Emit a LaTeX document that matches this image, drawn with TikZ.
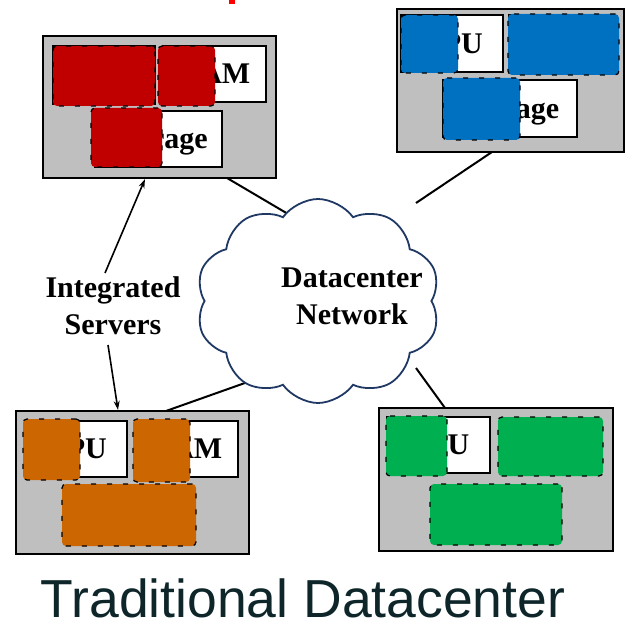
\documentclass[tikz,border=0pt]{standalone}
\usepackage{fontspec}
\setmainfont{Liberation Serif}
\newfontfamily\titlefont{Liberation Sans}
\usetikzlibrary{shapes.symbols,arrows.meta}
\definecolor{redblob}{HTML}{C00000}
\definecolor{blueblob}{HTML}{0070C0}
\definecolor{orangeblob}{HTML}{CC6600}
\definecolor{greenblob}{HTML}{00B050}
\definecolor{servergray}{HTML}{BFBFBF}
\definecolor{cloudline}{HTML}{203864}
\definecolor{titlecol}{HTML}{0E2629}
\tikzset{
  server/.style={draw=black, line width=2.2pt, fill=servergray, inner sep=0pt},
  part/.style={draw=black, line width=2pt, fill=white, inner sep=0pt,
    font=\bfseries\fontsize{30}{30}\selectfont, text height=19.5pt, text depth=0pt},
  blob/.style={fill=#1, rounded corners=4pt, inner sep=0pt, draw=black, line width=1.2pt,
    dash pattern=on 5pt off 11pt},
  link/.style={draw=black, line width=2pt},
  pointer/.style={draw=black, line width=1.6pt, -{Stealth[length=9pt,width=6pt]}},
  lbl/.style={font=\bfseries\fontsize{30}{37}\selectfont, align=center, inner sep=0pt}
}
\begin{document}
\begin{tikzpicture}[x=1pt,y=-1pt]
\useasboundingbox (0,0) rectangle (625,623);
% small red mark at top
\fill[red] (229,0) rectangle (235,4);
% connector end points
\coordinate (tlA) at (227,178);
\coordinate (tlB) at (305,224);
\coordinate (trA) at (492,152);
\coordinate (trB) at (416,203);
\coordinate (blA) at (166,411);
\coordinate (blB) at (259,378);
\coordinate (brA) at (445,408);
\coordinate (brB) at (416,368);
\draw[link] (tlA) -- (tlB);
\draw[link] (trA) -- (trB);
\draw[link] (blA) -- (blB);
\draw[link] (brA) -- (brB);
% ---------- top-left server (red) ----------
\node[server, minimum width=233pt, minimum height=142pt] (tl) at (159.5,107) {};
\node[part, minimum width=102pt, minimum height=58pt] (tlcpu) at (104,75) {CPU};
\node[part, minimum width=103pt, minimum height=56pt] (tlram) at (214.5,74) {RAM};
\node[part, minimum width=127pt, minimum height=56pt] (tlsto) at (158.5,139) {Storage};
\node[blob=redblob, minimum width=102pt, minimum height=60pt] (tlb1) at (104,76) {};
\node[blob=redblob, minimum width=57pt, minimum height=60pt] (tlb2) at (186.5,76) {};
\node[blob=redblob, minimum width=71pt, minimum height=59pt] (tlb3) at (126.5,137.5) {};
% ---------- top-right server (blue) ----------
\node[server, minimum width=227pt, minimum height=143pt] (tr) at (510.5,80.5) {};
\node[part, minimum width=102pt, minimum height=57pt] (trcpu) at (452,43.5) {CPU};
\node[part, minimum width=103pt, minimum height=57pt] (trram) at (560,43.5) {RAM};
\node[part, minimum width=134pt, minimum height=57pt] (trsto) at (510,108.5) {Storage};
\node[blob=blueblob, minimum width=57pt, minimum height=58pt] (trb1) at (429.5,44) {};
\node[blob=blueblob, minimum width=111pt, minimum height=61pt] (trb2) at (563.5,44.5) {};
\node[blob=blueblob, minimum width=77pt, minimum height=62pt] (trb3) at (481.5,109) {};
% ---------- bottom-left server (orange) ----------
\node[server, minimum width=233pt, minimum height=143pt] (bl) at (132.5,482.5) {};
\node[part, minimum width=102pt, minimum height=56pt] (blcpu) at (76,449) {CPU};
\node[part, minimum width=103pt, minimum height=56pt] (blram) at (186.5,449) {RAM};
\node[part, minimum width=130pt, minimum height=58pt] (blsto) at (129,515) {Storage};
\node[blob=orangeblob, minimum width=57pt, minimum height=61pt] (blb1) at (51.5,449.5) {};
\node[blob=orangeblob, minimum width=57pt, minimum height=63pt] (blb2) at (161.5,450.5) {};
\node[blob=orangeblob, minimum width=134pt, minimum height=62pt] (blb3) at (129,515) {};
% ---------- bottom-right server (green) ----------
\node[server, minimum width=234pt, minimum height=143pt] (br) at (496,479.5) {};
\node[part, minimum width=103pt, minimum height=56pt] (brcpu) at (438.5,445) {CPU};
\node[part, minimum width=101pt, minimum height=55pt] (brram) at (550.5,446.5) {RAM};
\node[part, minimum width=128pt, minimum height=57pt] (brsto) at (496,514.5) {Storage};
\node[blob=greenblob, minimum width=61pt, minimum height=60pt] (brb1) at (416.5,446) {};
\node[blob=greenblob, minimum width=105pt, minimum height=59pt] (brb2) at (550.5,446.5) {};
\node[blob=greenblob, minimum width=132pt, minimum height=61pt] (brb3) at (496,514.5) {};
% ---------- cloud ----------
\node[cloud, cloud puffs=10, cloud puff arc=110, draw=cloudline, line width=1.8pt, fill=white,
  minimum width=244pt, minimum height=204pt, inner sep=0pt] (net) at (318,301) {};
\node[lbl] (netlbl) at (352,296) {Datacenter\\Network};
% ---------- label and arrows ----------
\node[lbl] (intlbl) at (113,306) {Integrated\\Servers};
\coordinate (arA) at (105,273);
\coordinate (arB) at (108,345);
\draw[pointer] (arA) -- (tl.south -| 145,0);
\draw[pointer] (arB) -- (bl.north -| 118,0);
% ---------- title ----------
\node[font=\titlefont\fontsize{53.5}{54}\selectfont, text=titlecol, anchor=base, inner sep=0pt] (title) at (303,617) {Traditional Datacenter};
\end{tikzpicture}
\end{document}
